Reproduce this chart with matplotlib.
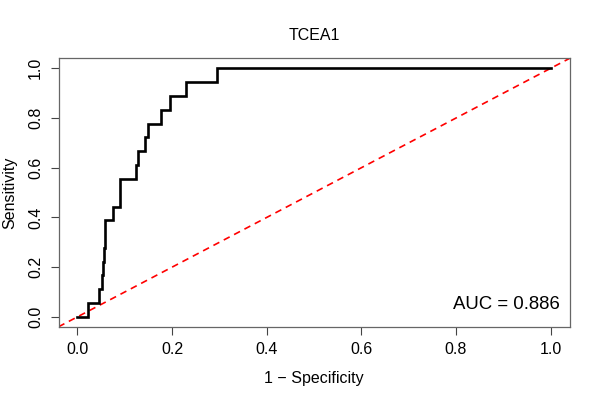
import matplotlib
matplotlib.use("Agg")
import matplotlib.pyplot as plt

# ROC curve points (1 - specificity, sensitivity), step curve
fpr = [0.0, 0.022, 0.022, 0.045, 0.045, 0.051, 0.051, 0.055, 0.055, 0.057, 0.057,
       0.058, 0.058, 0.059, 0.059, 0.061, 0.061, 0.076, 0.076, 0.091, 0.091,
       0.123, 0.123, 0.129, 0.129, 0.143, 0.143, 0.149, 0.149, 0.177, 0.177,
       0.195, 0.195, 0.230, 0.230, 0.294, 0.294, 1.0]
tpr = [0.0, 0.0, 0.056, 0.056, 0.111, 0.111, 0.167, 0.167, 0.222, 0.222, 0.278,
       0.278, 0.333, 0.333, 0.389, 0.389, 0.389, 0.389, 0.444, 0.444, 0.556,
       0.556, 0.611, 0.611, 0.667, 0.667, 0.722, 0.722, 0.778, 0.778, 0.833,
       0.833, 0.889, 0.889, 0.944, 0.944, 1.0, 1.0]
ticks = [0.0, 0.2, 0.4, 0.6, 0.8, 1.0]
tick_labels = ["0.0", "0.2", "0.4", "0.6", "0.8", "1.0"]
title = "TCEA1"
auc_text = "AUC = 0.886"

plt.rcParams['font.family'] = ['Liberation Sans', 'DejaVu Sans']

fig = plt.figure(figsize=(6, 4), dpi=100)
ax = fig.add_axes([0.0975, 0.183, 0.8517, 0.671])

ax.plot([-0.04, 1.04], [-0.04, 1.04], color='red', linestyle=(0, (4, 3)), linewidth=1.2)
ax.plot(fpr, tpr, color='black', linewidth=1.9, solid_joinstyle='miter')

ax.set_xlim(-0.04, 1.04)
ax.set_ylim(-0.04, 1.04)
ax.set_xticks(ticks)
ax.set_xticklabels(tick_labels)
ax.set_yticks(ticks)
ax.set_yticklabels(tick_labels, rotation=90, va='center')
ax.tick_params(axis='both', direction='out', length=6, width=0.8, color='#444444',
               labelsize=11.5, pad=5, labelcolor='black')
for s in ax.spines.values():
    s.set_color('#666666')
    s.set_linewidth(0.9)

ax.set_xlabel("1 − Specificity", fontsize=11.5, labelpad=10)
ax.set_ylabel("Sensitivity", fontsize=11.5, labelpad=8)
ax.set_title(title, fontsize=11.5, pad=13)
ax.text(1.02, 0.048, auc_text, ha='right', va='center', fontsize=13.4)

fig.savefig("out.png", dpi=100)
